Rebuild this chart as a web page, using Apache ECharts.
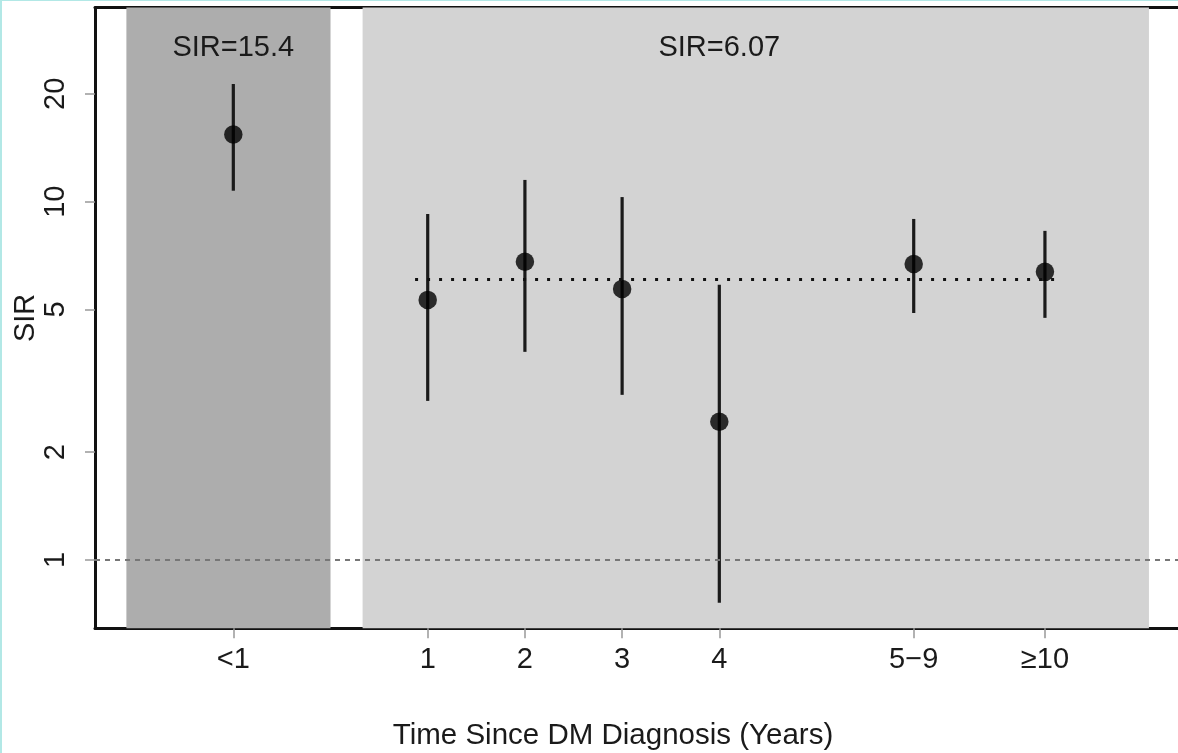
<!DOCTYPE html>
<html>
<head>
<meta charset="utf-8">
<script src="https://cdn.jsdelivr.net/npm/echarts@6/dist/echarts.min.js"></script>
<style>
  html, body { margin: 0; padding: 0; background: #ffffff; }
  #chart { position: absolute; left: 0; top: 0; width: 1178px; height: 753px; }
  .edgeL { position: absolute; left: 0; top: 0; width: 2px; height: 753px; background: #b2e8e6; z-index: 5; }
  .edgeT { position: absolute; left: 0; top: 0; width: 1178px; height: 1px; background: #b2e8e6; z-index: 5; }
</style>
</head>
<body>
<div id="chart"></div>
<div class="edgeL"></div>
<div class="edgeT"></div>
<script>
// ---- data ----
const categories = ['<1', '1', '2', '3', '4', '5\u22129', '\u226510'];
const xPos = [-1, 1, 2, 3, 4, 6, 7.35];
const sir = [15.4, 5.32, 6.80, 5.71, 2.43, 6.70, 6.37];
const lower = [10.73, 2.78, 3.81, 2.89, 0.76, 4.89, 4.74];
const upper = [21.3, 9.24, 11.5, 10.3, 5.86, 8.95, 8.29];
const yTicks = [1, 2, 5, 10, 20];
const bandStart = [-2.1, 0.33];
const bandEnd = [0, 8.42];
const annotText = ['SIR=15.4', 'SIR=6.07'];
const annotX = [-1, 4];
const annotY = [26.9, 26.9];
const pooledSIR = 6.07;
const pooledRange = [0.87, 7.48];
const nullSIR = 1;
const yRange = [0.6447, 34.83];
const xRange = [-2.423, 8.719];

const L = Math.log10;
const FONT = 'Liberation Sans, Arial, Helvetica, sans-serif';
const chart = echarts.init(document.getElementById('chart'), null, { renderer: 'canvas' });

const errData = xPos.map((x, i) => [x, L(lower[i]), L(upper[i])]);
const ptData = xPos.map((x, i) => [x, L(sir[i])]);
const annData = annotX.map((x, i) => ({ value: [x, L(annotY[i])], label: { formatter: annotText[i] } }));
const bandColors = ['#adadad', '#d3d3d3'];

const option = {
  animation: false,
  backgroundColor: '#ffffff',
  grid: { left: 95, right: 0, top: 7.5, bottom: 124.7, containLabel: false, outerBoundsMode: 'none' },
  graphic: [{
    type: 'text', x: 613, y: 736, z: 10,
    style: { text: 'Time Since DM Diagnosis (Years)', font: '29.5px ' + FONT, fill: '#1a1a1a', textAlign: 'center', textVerticalAlign: 'middle' }
  }],
  xAxis: [{
    type: 'value', min: xRange[0], max: xRange[1], position: 'bottom',
    axisLine: { show: true, onZero: false, lineStyle: { color: '#111', width: 3 } },
    axisTick: { show: true, length: 10, customValues: xPos, lineStyle: { color: '#999', width: 1.5 } },
    axisLabel: {
      show: true, customValues: xPos, margin: 17, fontSize: 29, fontFamily: FONT, color: '#1a1a1a',
      formatter: v => { let b = 0; xPos.forEach((p, i) => { if (Math.abs(p - v) < Math.abs(xPos[b] - v)) b = i; }); return categories[b]; }
    },
    splitLine: { show: false }
  }, {
    type: 'value', min: xRange[0], max: xRange[1], position: 'top',
    axisLine: { show: true, onZero: false, lineStyle: { color: '#111', width: 3 } },
    axisTick: { show: false }, axisLabel: { show: false }, splitLine: { show: false }
  }],
  yAxis: {
    type: 'value', min: L(yRange[0]), max: L(yRange[1]),
    name: 'SIR', nameLocation: 'middle', nameGap: 55, nameRotate: 90, nameMoveOverlap: false,
    nameTextStyle: { fontSize: 29, fontFamily: FONT, color: '#1a1a1a' },
    axisLine: { show: true, onZero: false, lineStyle: { color: '#111', width: 3 } },
    axisTick: { show: true, length: 10, customValues: yTicks.map(L), lineStyle: { color: '#999', width: 1.5 } },
    axisLabel: {
      show: true, customValues: yTicks.map(L), rotate: 90, margin: 25, fontSize: 29, fontFamily: FONT, color: '#1a1a1a',
      formatter: v => String(Math.round(Math.pow(10, v)))
    },
    splitLine: { show: false }
  },
  series: [
    {
      type: 'line', data: [], z: 1, silent: true,
      markArea: {
        silent: true,
        data: bandStart.map((s, i) => [
          { xAxis: s, itemStyle: { color: bandColors[i], opacity: 1 } },
          { xAxis: bandEnd[i] }
        ])
      },
      markLine: {
        silent: true, symbol: 'none', label: { show: false },
        data: [
          { yAxis: L(nullSIR), lineStyle: { color: '#777', width: 1.8, type: [5, 5] } },
          [
            { coord: [pooledRange[0], L(pooledSIR)], lineStyle: { color: '#111', width: 3, type: [3, 9] } },
            { coord: [pooledRange[1], L(pooledSIR)] }
          ]
        ]
      }
    },
    {
      type: 'custom', z: 3, silent: true,
      data: errData,
      renderItem: (params, api) => {
        const p1 = api.coord([api.value(0), api.value(1)]);
        const p2 = api.coord([api.value(0), api.value(2)]);
        return { type: 'line', shape: { x1: p1[0], y1: p1[1], x2: p2[0], y2: p2[1] }, style: { stroke: '#1a1a1a', lineWidth: 3.2 } };
      }
    },
    {
      type: 'scatter', z: 4, silent: true, symbol: 'circle', symbolSize: 18.5,
      itemStyle: { color: '#000' }, data: ptData
    },
    {
      type: 'scatter', z: 4, silent: true, symbol: 'circle', symbolSize: 0.1,
      itemStyle: { color: 'rgba(0,0,0,0)' },
      data: annData,
      labelLayout: { hideOverlap: false },
      label: { show: true, position: 'inside', fontSize: 29, fontFamily: FONT, color: '#1a1a1a', textBorderWidth: 0, textBorderColor: 'transparent', opacity: 1 }
    }
  ]
};
chart.setOption(option);
</script>
</body>
</html>
